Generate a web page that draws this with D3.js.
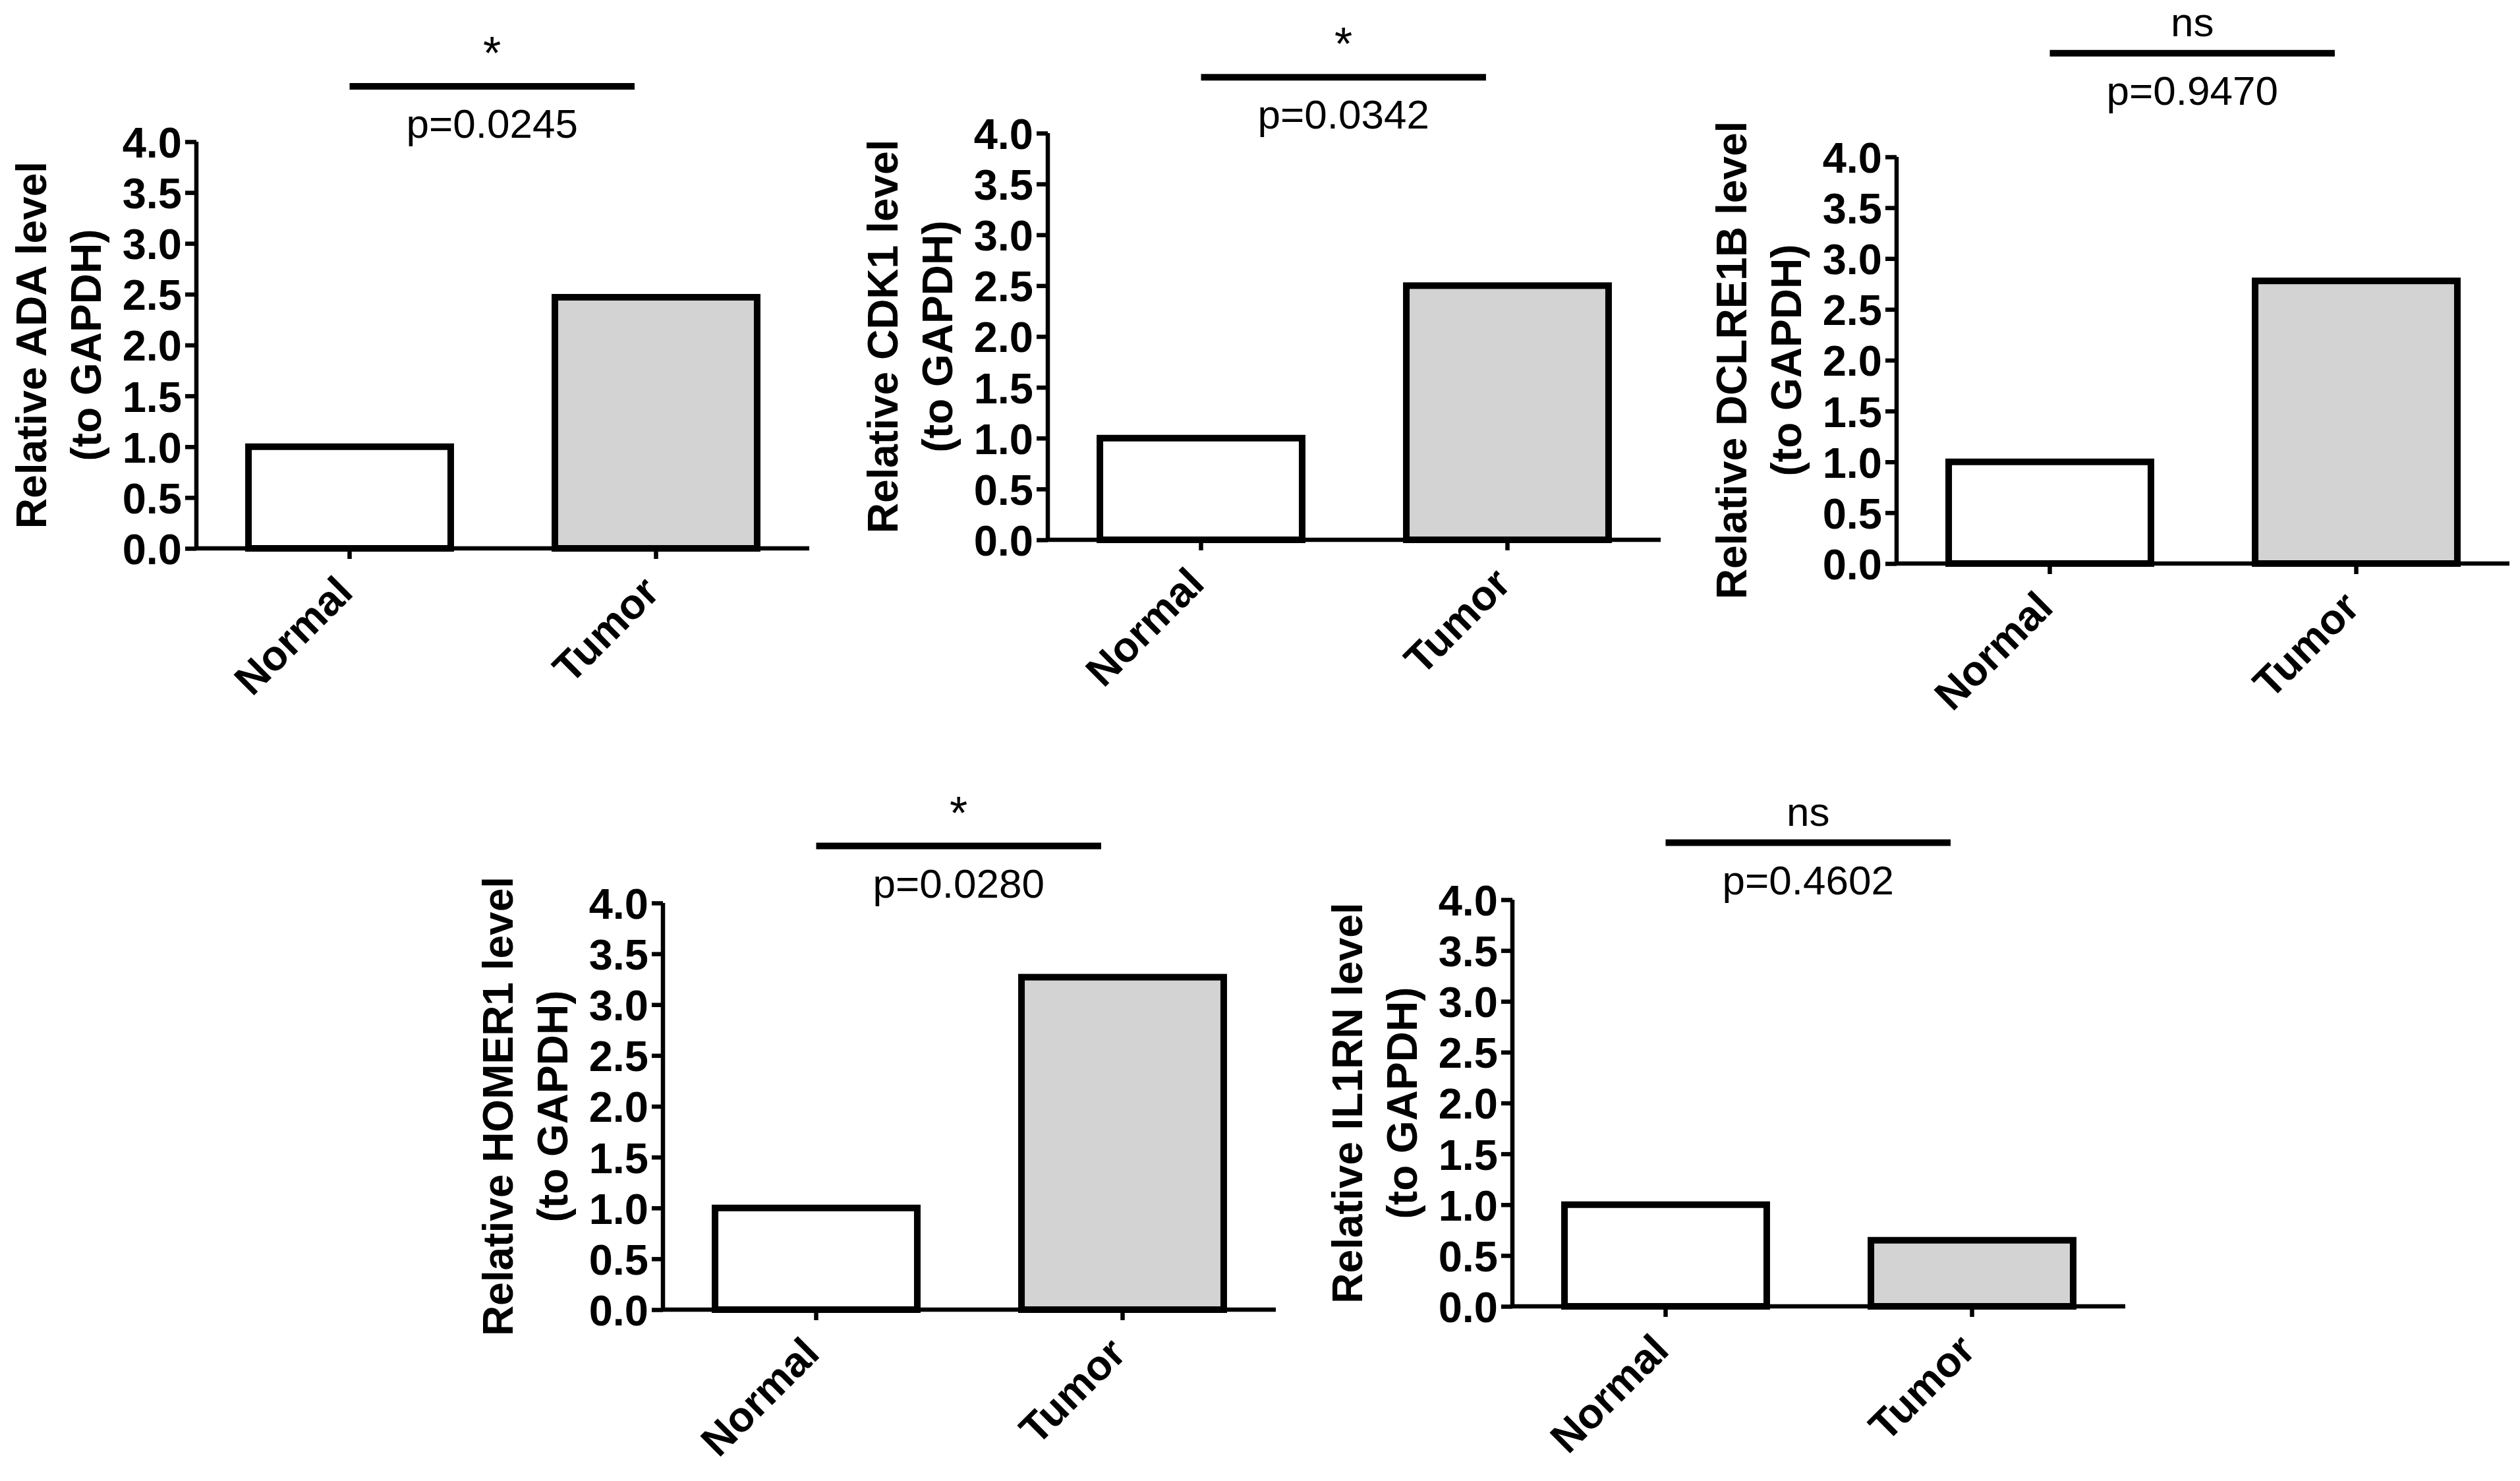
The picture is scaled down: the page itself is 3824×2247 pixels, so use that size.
<!DOCTYPE html>
<html>
<head>
<meta charset="utf-8">
<script src="https://cdn.jsdelivr.net/npm/d3@7"></script>
<style>
  html, body { margin: 0; padding: 0; background: #ffffff; }
  svg { display: block; }
  text { font-family: "Liberation Sans", Arial, sans-serif; fill: #000; }
</style>
</head>
<body>
<svg id="chart" width="3824" height="2247"></svg>
<script>
// ---- data ----
const genes = ["ADA", "CDK1", "DCLRE1B", "HOMER1", "IL1RN"];
const categories = ["Normal", "Tumor"];
const normalValues = [1.0, 1.0, 1.0, 1.0, 1.0];
const tumorValues = [2.47, 2.50, 2.78, 3.27, 0.65];
const pLabels = ["p=0.0245", "p=0.0342", "p=0.9470", "p=0.0280", "p=0.4602"];
const sigLabels = ["*", "*", "ns", "*", "ns"];
const yTickValues = [0, 0.5, 1, 1.5, 2, 2.5, 3, 3.5, 4];
const yDomain = [0, 4];

// ---- layout (positions of each panel's plot area) ----
const panelLayout = [
  { x0: 298,  yTop: 215,  sigLevel: 4.545 },
  { x0: 1590, yTop: 202,  sigLevel: 4.55 },
  { x0: 2878, yTop: 238,  sigLevel: 5.02 },
  { x0: 1006, yTop: 1370, sigLevel: 4.56 },
  { x0: 2295, yTop: 1365, sigLevel: 4.56 }
];
const plotW = 930, plotH = 617;
const fills = ["#ffffff", "#d3d3d3"];

const svg = d3.select("#chart");
svg.append("rect").attr("width", 3824).attr("height", 2247).attr("fill", "#fff");

genes.forEach((gene, i) => {
  const L = panelLayout[i];
  const g = svg.append("g").attr("transform", `translate(${L.x0},${L.yTop})`);

  const x = d3.scaleBand().domain(categories).range([0, plotW])
    .paddingInner(0.34).paddingOuter(0.17);
  const y = d3.scaleLinear().domain(yDomain).range([plotH, 0]);
  const vals = [normalValues[i], tumorValues[i]];

  // bars
  g.selectAll("rect.bar").data(categories).enter().append("rect")
    .attr("class", "bar")
    .attr("x", d => x(d))
    .attr("width", x.bandwidth())
    .attr("y", (d, k) => y(vals[k]))
    .attr("height", (d, k) => y(0) - y(vals[k]))
    .attr("fill", (d, k) => fills[k])
    .attr("stroke", "#000")
    .attr("stroke-width", 10);

  // y axis
  const yAxis = d3.axisLeft(y).tickValues(yTickValues)
    .tickFormat(d3.format(".1f")).tickSize(17).tickPadding(5);
  const ya = g.append("g").call(yAxis);
  ya.select(".domain").attr("stroke-width", 6.5).attr("d", `M0,${y(4)}V${y(0)}`);
  ya.selectAll(".tick line").attr("stroke-width", 6.5);
  ya.selectAll(".tick text")
    .style("font-family", "'Liberation Sans', Arial, sans-serif")
    .style("font-weight", "bold").style("font-size", "65px")
    .attr("dy", "0.36em");

  // x axis
  const xAxis = d3.axisBottom(x).tickSize(16).tickFormat("");
  const xa = g.append("g").attr("transform", `translate(0,${plotH})`).call(xAxis);
  xa.select(".domain").attr("stroke-width", 6.5).attr("d", `M0,0H${plotW}`);
  xa.selectAll(".tick line").attr("stroke-width", 6.5);

  // category labels, rotated
  g.selectAll("text.cat").data(categories).enter().append("text")
    .attr("class", "cat")
    .attr("transform", d => `translate(${x(d) + x.bandwidth() / 2 + 8},${plotH + 70}) rotate(-45)`)
    .attr("text-anchor", "end")
    .style("font-weight", "bold").style("font-size", "64px")
    .text(d => d);

  // y title (two lines)
  const midY = plotH / 2;
  g.append("text")
    .attr("transform", `translate(-228,${midY}) rotate(-90)`)
    .attr("text-anchor", "middle")
    .style("font-weight", "bold").style("font-size", "64px")
    .text(`Relative ${gene} level`);
  g.append("text")
    .attr("transform", `translate(-145,${midY}) rotate(-90)`)
    .attr("text-anchor", "middle")
    .style("font-weight", "bold").style("font-size", "64px")
    .text("(to GAPDH)");

  // significance bracket
  const c0 = x("Normal") + x.bandwidth() / 2;
  const c1 = x("Tumor") + x.bandwidth() / 2;
  const xs = c0, xe = c0 + 0.93 * (c1 - c0);
  const ly = y(L.sigLevel);
  g.append("line").attr("x1", xs).attr("x2", xe).attr("y1", ly).attr("y2", ly)
    .attr("stroke", "#000").attr("stroke-width", 10);
  const mid = (xs + xe) / 2;
  g.append("text").attr("x", mid).attr("y", ly - 26)
    .attr("text-anchor", "middle")
    .style("font-size", sigLabels[i] === "*" ? "70px" : "62px")
    .text(sigLabels[i]);
  g.append("text").attr("x", mid).attr("y", ly + 78)
    .attr("text-anchor", "middle").style("font-size", "62px")
    .text(pLabels[i]);
});
</script>
</body>
</html>
